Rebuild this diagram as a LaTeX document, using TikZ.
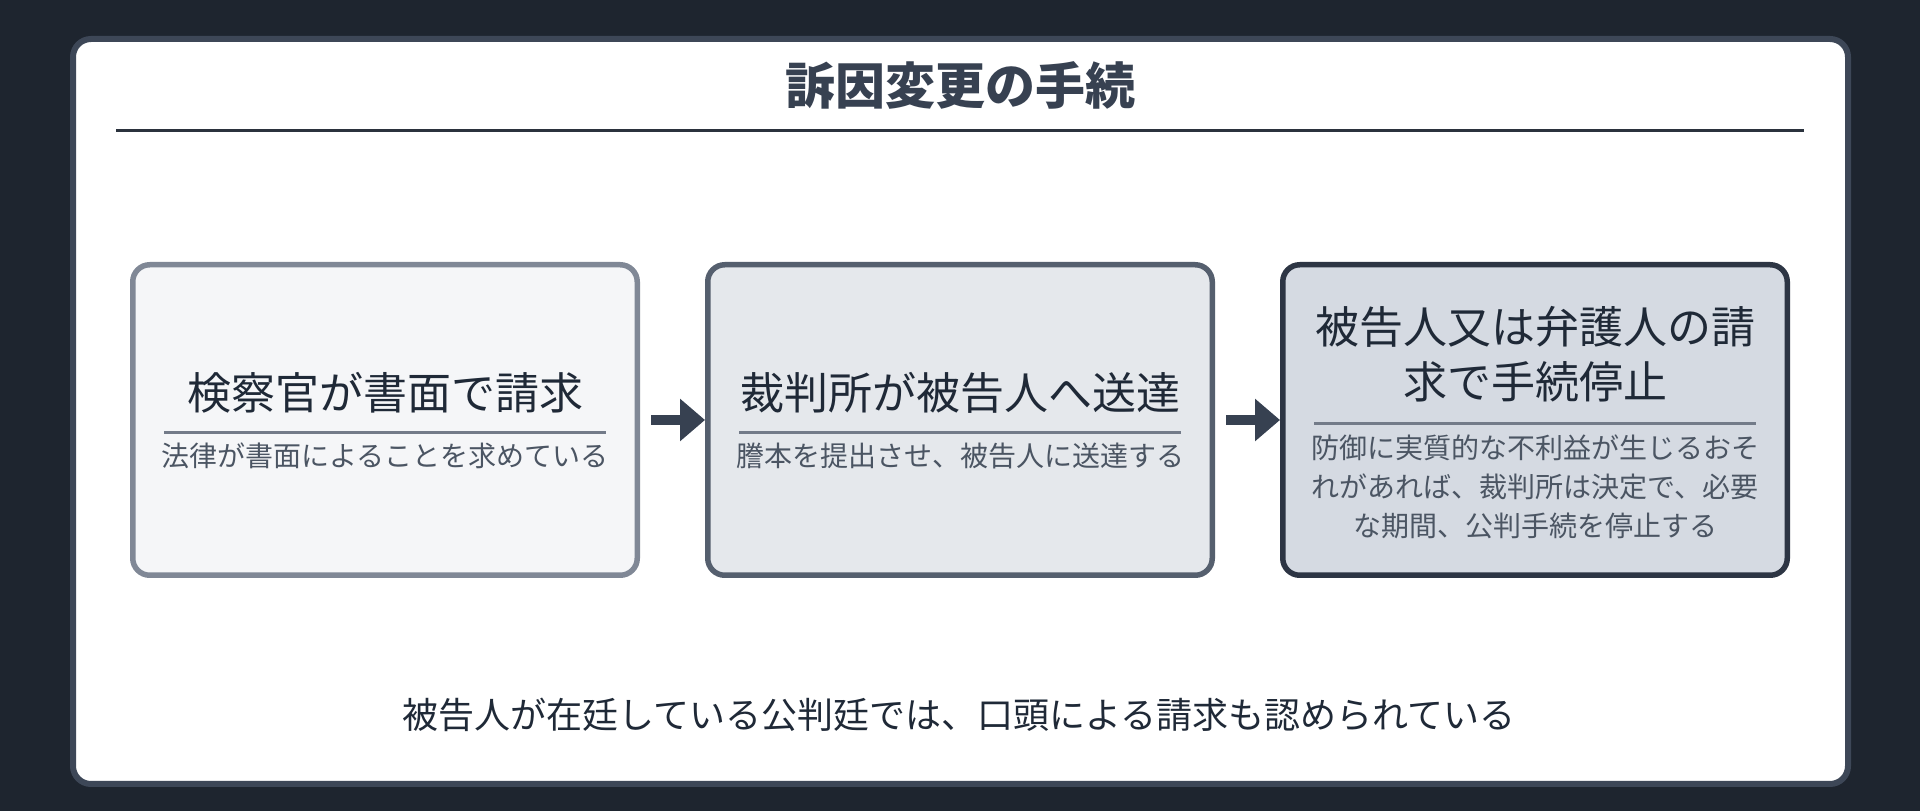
\documentclass[tikz,border=0pt]{standalone}
\usepackage{fontspec}
\setmainfont{Noto Sans CJK JP}
\usepackage{tikz}
\usetikzlibrary{positioning}
\usetikzlibrary{arrows.meta}

\definecolor{pagebg}{HTML}{1E252F}
\definecolor{cardedge}{HTML}{3D4757}
\definecolor{titlecol}{HTML}{374151}
\definecolor{rulecol}{HTML}{2B323D}
\definecolor{inkdark}{HTML}{1F2937}
\definecolor{inksub}{HTML}{4B5563}
\definecolor{sepcol}{HTML}{737B89}
\definecolor{edgeA}{HTML}{808896}
\definecolor{fillA}{HTML}{F5F6F8}
\definecolor{edgeB}{HTML}{555F6E}
\definecolor{fillB}{HTML}{E5E8EC}
\definecolor{edgeC}{HTML}{2D3544}
\definecolor{fillC}{HTML}{D5DAE2}

\tikzstyle{stagebox} = [draw,line width=5.5pt,rounded corners=17pt,minimum width=504.5pt,minimum height=310.5pt,inner sep=0pt]
\tikzstyle{headtext} = [text=inkdark,inner sep=0pt,align=center,font=\fontsize{44pt}{54.5pt}\selectfont]
\tikzstyle{subtext} = [text=inksub,inner sep=0pt,align=center,font=\fontsize{28pt}{39pt}\selectfont]
\tikzstyle{seprule} = [draw=sepcol,line width=3pt]
\tikzstyle{flowarrow} = [draw=titlecol,line width=10pt,-{Triangle[length=25pt,width=41pt]}]

\begin{document}
\begin{tikzpicture}[x=1pt,y=1pt]
	\useasboundingbox (0,0) rectangle (1920,811);
	\fill[pagebg] (0,0) rectangle (1920,811);
	
	%Card
	\draw[cardedge,line width=6pt,fill=white,rounded corners=18pt] (73,27) rectangle (1848,772);
	\node[text=titlecol,font=\fontsize{50pt}{60pt}\selectfont\bfseries] (title) at (960,726) {訴因変更の手続};
	\draw[rulecol,line width=3pt] (116,680.5) -- (1804,680.5);
	
	%Nodes
	\node[stagebox,draw=edgeA,fill=fillA] (prosecutor) at (385,391) {};
	\node[stagebox,draw=edgeB,fill=fillB,right=65pt of prosecutor] (court) {};
	\node[stagebox,draw=edgeC,fill=fillC,right=65pt of court] (suspend) {};
	
	\node[headtext] (prosecutorhead) at ([yshift=27.5pt]prosecutor.center) {検察官が書面で請求};
	\draw[seprule] ([xshift=-221pt,yshift=-13pt]prosecutor.center) -- ([xshift=221pt,yshift=-13pt]prosecutor.center);
	\node[subtext] (prosecutorsub) at ([yshift=-35.5pt]prosecutor.center) {法律が書面によることを求めている};
	
	\node[headtext] (courthead) at ([yshift=27.5pt]court.center) {裁判所が被告人へ送達};
	\draw[seprule] ([xshift=-221pt,yshift=-13pt]court.center) -- ([xshift=221pt,yshift=-13pt]court.center);
	\node[subtext] (courtsub) at ([yshift=-35.5pt]court.center) {謄本を提出させ、被告人に送達する};
	
	\node[headtext] (suspendhead) at ([yshift=66pt]suspend.center) {被告人又は弁護人の請\\求で手続停止};
	\draw[seprule] ([xshift=-221pt,yshift=-3.5pt]suspend.center) -- ([xshift=221pt,yshift=-3.5pt]suspend.center);
	\node[subtext] (suspendsub) at ([yshift=-66.5pt]suspend.center) {防御に実質的な不利益が生じるおそ\\れがあれば、裁判所は決定で、必要\\な期間、公判手続を停止する};
	
	\node[text=inkdark,font=\fontsize{36pt}{44pt}\selectfont] (note) at (959,96) {被告人が在廷している公判廷では、口頭による請求も認められている};
	
	%Lines
	\draw[flowarrow] ([xshift=11pt]prosecutor.east) -- (court.west);
	\draw[flowarrow] ([xshift=11pt]court.east) -- (suspend.west);
	
\end{tikzpicture}
\end{document}
